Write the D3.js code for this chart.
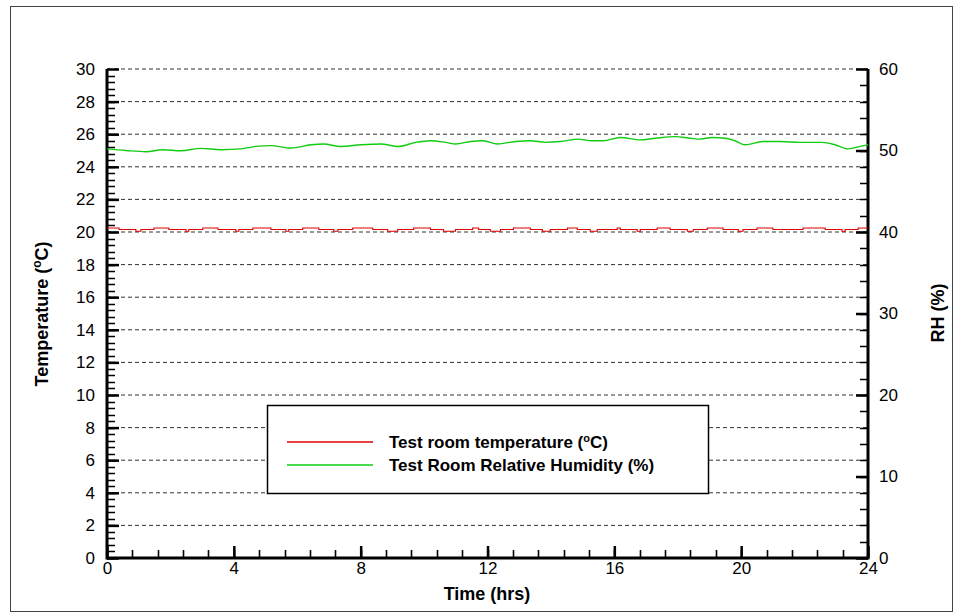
<!DOCTYPE html>
<html>
<head>
<meta charset="utf-8">
<script src="https://cdn.jsdelivr.net/npm/d3@7"></script>
<style>
    body { margin: 0; background: #fff; }
    svg { font-family: "Liberation Sans", Arial, sans-serif; }
</style>
</head>
<body>
<svg id="chart" width="955" height="615"></svg>
<script>
// temperature (step changes), hours -> deg C
const tempTime = [0, 0.38, 0.91, 1.07, 1.48, 1.95, 2.49, 2.58, 3.02, 3.5, 4.06, 4.16, 4.6, 5.17, 5.64, 5.73,
    6.17, 6.68, 7.15, 7.28, 7.75, 8.38, 8.85, 9.17, 9.67, 10.2, 10.61, 10.99, 11.53, 11.72, 12.09, 12.41,
    12.82, 13.35, 13.73, 13.98, 14.52, 14.83, 15.24, 15.46, 16.09, 16.19, 16.72, 16.82, 17.35, 17.76,
    18.3, 18.49, 18.93, 19.43, 19.91, 20.06, 20.5, 21.0, 21.95, 22.65, 23.18, 23.28, 23.69, 24];
const tempValue = [20.25, 20.15, 20.05, 20.15, 20.25, 20.15, 20.05, 20.15, 20.25, 20.15, 20.05, 20.15, 20.25, 20.15, 20.05, 20.15,
    20.25, 20.15, 20.05, 20.15, 20.25, 20.15, 20.05, 20.15, 20.25, 20.15, 20.05, 20.15, 20.25, 20.15, 20.05, 20.15,
    20.25, 20.15, 20.05, 20.15, 20.25, 20.15, 20.05, 20.15, 20.25, 20.15, 20.05, 20.15, 20.25, 20.15,
    20.05, 20.15, 20.25, 20.15, 20.05, 20.15, 20.25, 20.15, 20.25, 20.15, 20.05, 20.15, 20.25, 20.25];

// relative humidity, hours -> %
const rhTime = [0, 0.6, 1.23, 1.76, 2.33, 2.96, 3.6, 4.22, 4.69, 5.17, 5.8, 6.43, 6.83, 7.37, 8.0, 8.63, 9.2,
    9.73, 10.2, 10.68, 11.0, 11.46, 11.87, 12.31, 12.88, 13.35, 13.83, 14.3, 14.87, 15.24, 15.65, 16.19,
    16.82, 17.29, 17.92, 18.4, 18.71, 19.09, 19.5, 19.8, 20.13, 20.69, 21.23, 21.86, 22.55, 22.96, 23.37, 23.75, 24];
const rhValue = [50.2, 50.0, 49.85, 50.1, 49.97, 50.26, 50.1, 50.2, 50.5, 50.6, 50.3, 50.7, 50.8, 50.5, 50.7, 50.8, 50.5,
    51.0, 51.2, 51.0, 50.8, 51.1, 51.2, 50.8, 51.1, 51.2, 51.0, 51.1, 51.4, 51.2, 51.2, 51.6,
    51.3, 51.5, 51.7, 51.5, 51.4, 51.6, 51.5, 51.2, 50.7, 51.1, 51.1, 51.0, 51.0, 50.7, 50.2, 50.5, 50.7];

const xTicks = [0, 4, 8, 12, 16, 20, 24];
const yTicks = [0, 2, 4, 6, 8, 10, 12, 14, 16, 18, 20, 22, 24, 26, 28, 30];
const rhTicks = [0, 10, 20, 30, 40, 50, 60];
const legendLabels = ["Test room temperature (", "Test Room Relative Humidity (%)"];

const plotLeft = 107, plotRight = 868, plotTop = 69, plotBottom = 558;

const svg = d3.select("#chart");

// outer frame
svg.append("rect")
    .attr("x", 10.5).attr("y", 6.5)
    .attr("width", 942).attr("height", 605)
    .attr("fill", "none")
    .attr("stroke", "#444")
    .attr("stroke-width", 1);

const x = d3.scaleLinear().domain([0, 24]).range([plotLeft, plotRight]);
const y = d3.scaleLinear().domain([0, 30]).range([plotBottom, plotTop]);
const y2 = d3.scaleLinear().domain([0, 60]).range([plotBottom, plotTop]);

// dashed grid at every labelled temperature
svg.append("g")
    .selectAll("line")
    .data(yTicks.filter(d => d > 0))
    .enter().append("line")
    .attr("x1", x(0)).attr("x2", x(24))
    .attr("y1", d => y(d)).attr("y2", d => y(d))
    .attr("stroke", "#333")
    .attr("stroke-width", 1)
    .attr("stroke-dasharray", "4,3");

// minor ticks (left: 0.4 degC, bottom: 0.8 h, right: 2 %RH)
const leftMinor = d3.range(0, 75).map(i => i * 0.4);
const bottomMinor = d3.range(0, 31).map(i => i * 0.8);
const rightMinor = d3.range(0, 31).map(i => i * 2);

var minorPath = "";
leftMinor.forEach(d => { minorPath += "M" + x(0) + "," + (Math.round(y(d)) + 0.5) + "h8"; });
bottomMinor.forEach(d => { minorPath += "M" + (Math.round(x(d)) + 0.5) + "," + y(0) + "v-8"; });
rightMinor.forEach(d => { minorPath += "M" + x(24) + "," + (Math.round(y2(d)) + 0.5) + "h-8"; });

svg.append("path")
    .attr("class", "minor-ticks")
    .attr("d", minorPath)
    .attr("fill", "none")
    .attr("stroke", "#000")
    .attr("stroke-width", 1.6);

// major ticks with labels
const gy = svg.append("g")
    .attr("transform", "translate(" + x(0) + ",0)")
    .call(d3.axisRight(y).tickValues(yTicks).tickSize(12));
gy.selectAll("text").attr("text-anchor", "end").attr("x", -12);

const gx = svg.append("g")
    .attr("transform", "translate(0," + y(0) + ")")
    .call(d3.axisTop(x).tickValues(xTicks).tickSize(12));
gx.selectAll("text").attr("y", 4).attr("dy", "0.71em");

const gr = svg.append("g")
    .attr("transform", "translate(" + x(24) + ",0)")
    .call(d3.axisLeft(y2).tickValues(rhTicks).tickSize(12));
gr.selectAll("text").attr("text-anchor", "start").attr("x", 11);

[gy, gx, gr].forEach(g => {
    g.select(".domain").remove();
    g.selectAll("line").attr("stroke", "#000").attr("stroke-width", 2.5);
    g.selectAll("text")
        .attr("fill", "#000")
        .style("font-family", "'Liberation Sans', Arial, sans-serif")
        .style("font-size", "17px");
});

// thick axis lines
svg.append("path")
    .attr("d", "M" + x(0) + "," + y(30) + "V" + y(0) + "H" + x(24) + "V" + y(30))
    .attr("fill", "none")
    .attr("stroke", "#000")
    .attr("stroke-width", 3);

// data lines
const tempLine = d3.line()
    .x(d => x(d[0]))
    .y(d => y(d[1]))
    .curve(d3.curveStepAfter);

svg.append("path")
    .datum(tempTime.map((t, i) => [t, tempValue[i]]))
    .attr("d", tempLine)
    .attr("fill", "none")
    .attr("stroke", "#e00000")
    .attr("stroke-width", 1.1);

const rhLine = d3.line()
    .x(d => x(d[0]))
    .y(d => y2(d[1]))
    .curve(d3.curveMonotoneX);

svg.append("path")
    .datum(rhTime.map((t, i) => [t, rhValue[i]]))
    .attr("d", rhLine)
    .attr("fill", "none")
    .attr("stroke", "#11cc11")
    .attr("stroke-width", 1.4);

// legend
const legend = svg.append("g");
legend.append("rect")
    .attr("x", 267.5).attr("y", 405.5)
    .attr("width", 441).attr("height", 88)
    .attr("fill", "#fff")
    .attr("stroke", "#000")
    .attr("stroke-width", 1.5);

const legendColors = ["#e00000", "#11cc11"];
legendLabels.forEach(function(label, i) {
    var ly = 442 + i * 23;
    legend.append("line")
        .attr("x1", 287).attr("x2", 373)
        .attr("y1", ly).attr("y2", ly)
        .attr("stroke", legendColors[i])
        .attr("stroke-width", 1.3);
    var t = legend.append("text")
        .attr("x", 389).attr("y", ly + 6)
        .style("font-size", "17px")
        .style("font-weight", "bold")
        .text(label);
    if (i === 0) {
        t.append("tspan").attr("dy", -6).style("font-size", "11px").text("o");
        t.append("tspan").attr("dy", 6).text("C)");
    }
});

// axis titles
svg.append("text")
    .attr("x", 487).attr("y", 600)
    .attr("text-anchor", "middle")
    .style("font-size", "18px")
    .style("font-weight", "bold")
    .text("Time (hrs)");

const yt = svg.append("text")
    .attr("transform", "translate(48,314) rotate(-90)")
    .attr("text-anchor", "middle")
    .style("font-size", "18px")
    .style("font-weight", "bold")
    .text("Temperature (");
yt.append("tspan").attr("dy", -7).style("font-size", "12px").text("o");
yt.append("tspan").attr("dy", 7).text("C)");

svg.append("text")
    .attr("transform", "translate(944,313) rotate(-90)")
    .attr("text-anchor", "middle")
    .style("font-size", "18px")
    .style("font-weight", "bold")
    .text("RH (%)");
</script>
</body>
</html>
